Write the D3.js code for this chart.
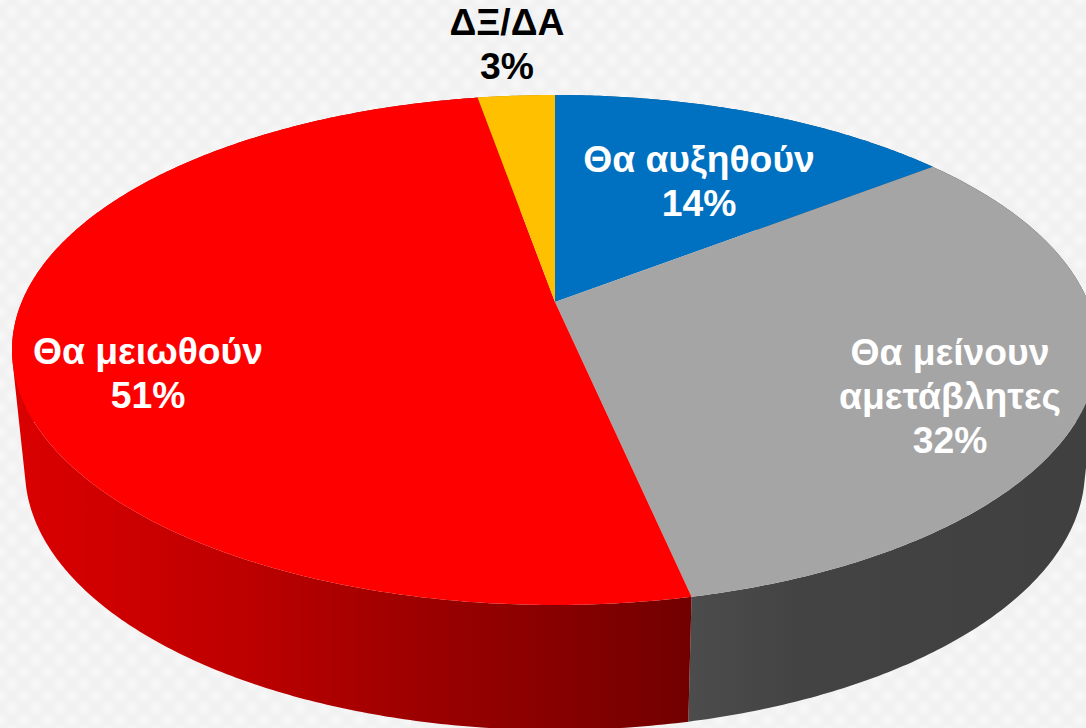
<!DOCTYPE html>
<html>
<head>
<meta charset="utf-8">
<script src="https://cdn.jsdelivr.net/npm/d3@7"></script>
<style>
html, body { margin: 0; padding: 0; background: #f3f3f3; overflow: hidden; }
svg { display: block; }
</style>
</head>
<body>
<svg id="chart"></svg>
<script>
// data
var categories = ["Θα αυξηθούν", "Θα μείνουν αμετάβλητες", "Θα μειωθούν", "ΔΞ/ΔΑ"];
var percentLabels = ["14%", "32%", "51%", "3%"];
var shares = [14.5, 32.15, 50.6, 2.75]; // slice sizes

var width = 1086, height = 728;
var topColors = ["#0070c0", "#a5a5a5", "#ff0000", "#ffc000"];
var sideFills = ["#00508a", "url(#sideGrey)", "url(#sideRed)", "#b08400"];

// the pie is drawn in perspective, so the centre sits above the middle of the ellipse
var topRim = {cx: 555, top: 95, bottom: 605, apex: 302, rx: 543};
var lowRim = {cx: 555, top: 210, bottom: 730, apex: 421, rx: 530};

function projector(rim) {
	var a = rim.apex - rim.top, b = rim.bottom - rim.apex;
	var p = (b - a) / (b + a);
	var x = d3.scaleLinear().domain([-1, 1]).range([rim.cx - rim.rx * Math.sqrt(1 - p * p), rim.cx + rim.rx * Math.sqrt(1 - p * p)]);
	var y = d3.scaleLinear().domain([-1, 1]).range([rim.apex - a * (1 + p), rim.apex + a * (1 + p)]);
	return function(angle) {
		var u = Math.sin(angle), v = -Math.cos(angle);
		var s = 1 / (1 - p * v);
		return [x(u * s), y(v * s)];
	};
}

var onTop = projector(topRim), onLow = projector(lowRim);
var line = d3.line();

function arcAngles(d) {
	var n = Math.max(2, Math.ceil((d.endAngle - d.startAngle) / 0.01));
	return d3.range(n + 1).map(function(i) { return d.startAngle + (d.endAngle - d.startAngle) * i / n; });
}

var svg = d3.select("#chart").attr("width", width).attr("height", height);
var defs = svg.append("defs");

// faint woven background
var weave = defs.append("pattern").attr("id", "weave").attr("patternUnits", "userSpaceOnUse")
	.attr("width", 24).attr("height", 24);
var glow = defs.append("radialGradient").attr("id", "glow");
glow.append("stop").attr("offset", "0%").attr("stop-color", "#f8f8f8");
glow.append("stop").attr("offset", "100%").attr("stop-color", "#f8f8f8").attr("stop-opacity", 0);
weave.append("rect").attr("width", 24).attr("height", 24).attr("fill", "#f1f1f1");
[[0, 0], [24, 0], [0, 24], [24, 24], [12, 12]].forEach(function(c) {
	weave.append("circle").attr("cx", c[0]).attr("cy", c[1]).attr("r", 9).attr("fill", "url(#glow)");
});

function sideGradient(id, stops) {
	var g = defs.append("linearGradient").attr("id", id).attr("gradientUnits", "userSpaceOnUse")
		.attr("x1", stops[0][0]).attr("x2", stops[stops.length - 1][0]).attr("y1", 0).attr("y2", 0);
	stops.forEach(function(s) {
		g.append("stop").attr("offset", (s[0] - stops[0][0]) / (stops[stops.length - 1][0] - stops[0][0]))
			.attr("stop-color", s[1]);
	});
}
sideGradient("sideRed", [[20, "#da0000"], [250, "#bc0000"], [400, "#a00000"], [690, "#720000"]]);
sideGradient("sideGrey", [[688, "#4c4c4c"], [800, "#434343"], [1086, "#404040"]]);

svg.append("rect").attr("width", width).attr("height", height).attr("fill", "url(#weave)");

var slices = d3.pie().sort(null).value(function(d) { return d; })(shares);

// sides first, one small quad per step so the silhouette joins both rims.
// all quads wind the same way or the overlapping ones cancel out
svg.append("g").selectAll("path").data(slices).enter().append("path")
	.attr("d", function(d) {
		return d3.pairs(arcAngles(d)).map(function(q) {
			var quad = [onTop(q[0]), onTop(q[1]), onLow(q[1]), onLow(q[0])];
			if (d3.polygonArea(quad) < 0) quad.reverse();
			return line(quad) + "Z";
		}).join("");
	})
	.attr("fill", function(d, i) { return sideFills[i]; });

svg.append("g").selectAll("path").data(slices).enter().append("path")
	.attr("d", function(d) {
		return line([[topRim.cx, topRim.apex]].concat(arcAngles(d).map(onTop))) + "Z";
	})
	.attr("fill", function(d, i) { return topColors[i]; });

// labels
var labelLines = [
	[categories[0], percentLabels[0]],
	["Θα μείνουν", "αμετάβλητες", percentLabels[1]],
	[categories[2], percentLabels[2]],
	[categories[3], percentLabels[3]]
];
var labelAt = [[699, 172], [950, 365], [148, 364], [507, 35]];
var labelColor = ["#fff", "#fff", "#fff", "#000"];

labelLines.forEach(function(lines, i) {
	svg.append("text")
		.attr("text-anchor", "middle")
		.attr("font-family", "'Liberation Sans', Arial, sans-serif")
		.attr("font-weight", "bold")
		.attr("font-size", 37.3)
		.attr("fill", labelColor[i])
		.selectAll("tspan").data(lines).enter().append("tspan")
		.attr("x", labelAt[i][0])
		.attr("y", function(d, j) { return labelAt[i][1] + j * 44; })
		.text(function(d) { return d; });
});
</script>
</body>
</html>
